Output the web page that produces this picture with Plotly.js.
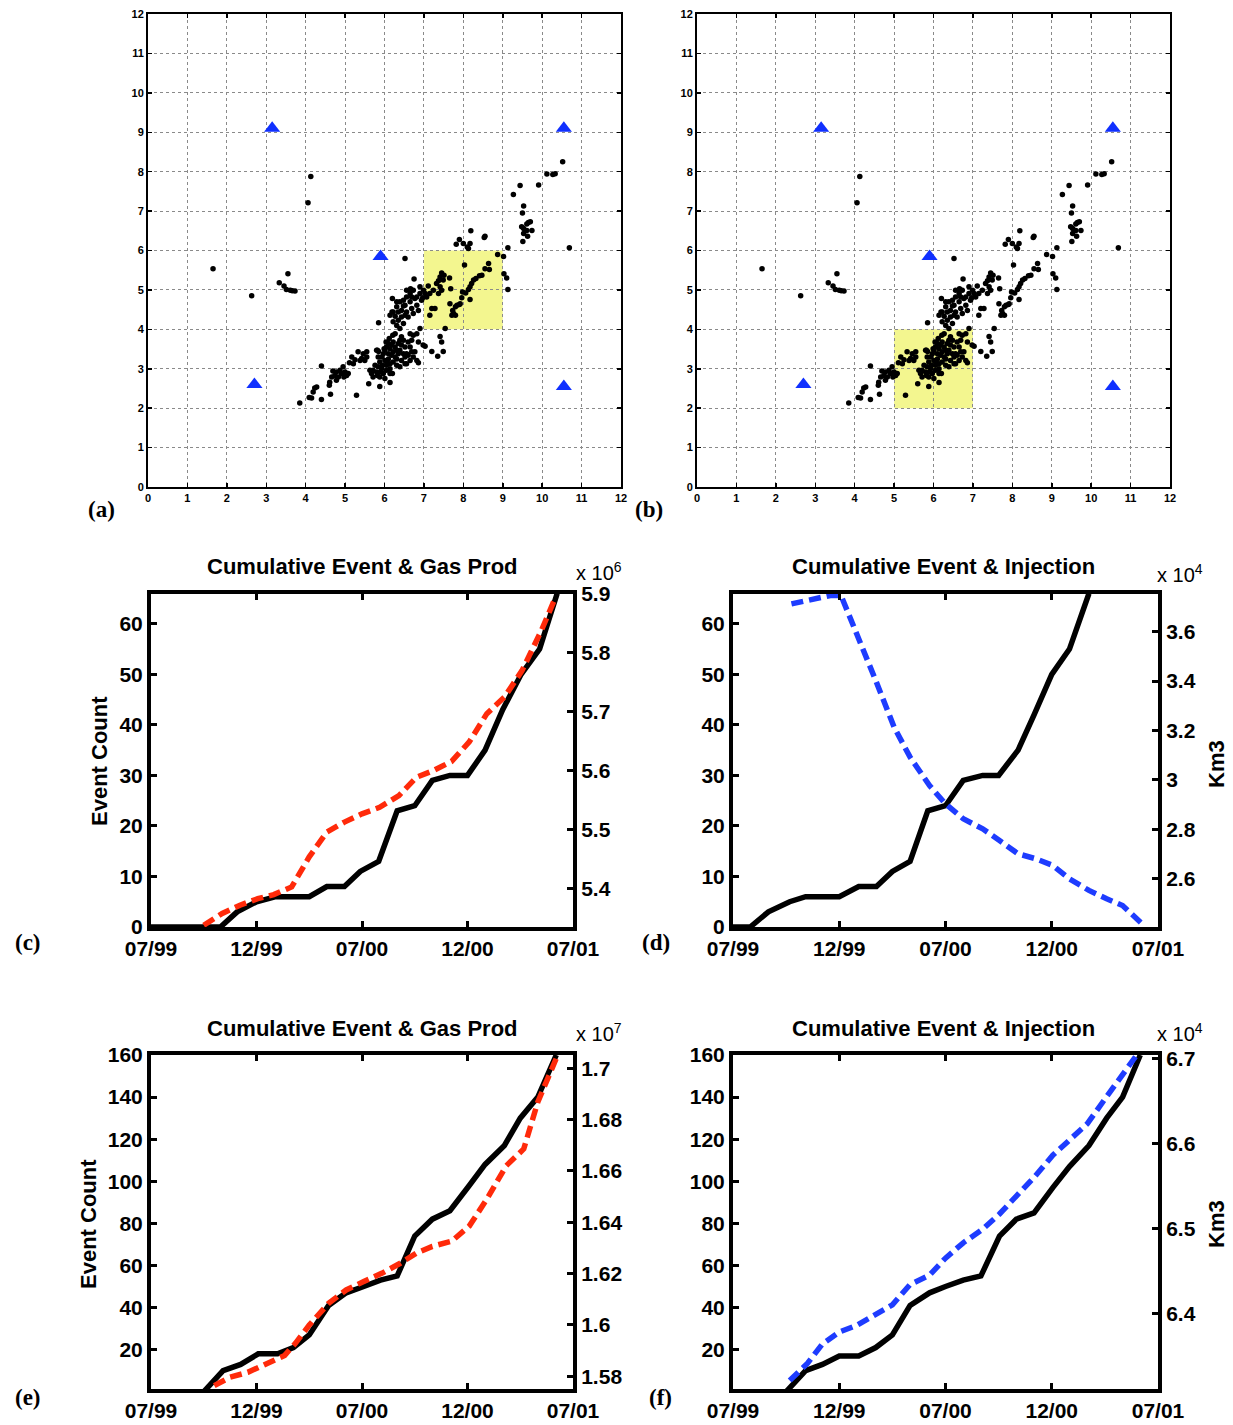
<!DOCTYPE html>
<html>
<head>
<meta charset="utf-8">
<script src="https://cdn.plot.ly/plotly-3.0.1.min.js"></script>
<style>html,body{margin:0;padding:0;background:#fff;}#chart{width:1233px;height:1425px;}</style>
</head>
<body>
<div id="chart"></div>
<script>
// ---------------- DATA ----------------
// Event epicentres (km), panels (a) and (b)
const eventX = [1.65,2.63,3.33,3.45,3.55,3.51,3.61,3.66,3.73,4.06,4.13,6.52,5.85,10.52,10.12,10.27,10.33,9.91,9.44,9.27,9.53,9.50,9.48,9.53,9.61,9.70,9.61,9.53,9.74,9.63,9.51,9.65,10.69,9.13,9.02,8.87,9.03,9.10,9.13,7.90,7.82,8.00,8.13,8.19,8.17,8.10,8.53,8.55,8.03,8.64,8.66,8.55,8.47,8.41,8.32,8.26,8.21,8.17,8.13,8.06,7.98,8.17,7.96,7.92,7.84,7.80,7.73,7.71,7.80,7.90,7.75,7.66,7.20,7.28,7.11,7.24,7.37,7.45,7.49,7.45,7.41,7.32,7.65,7.68,7.37,7.41,7.51,7.15,6.75,7.15,7.54,7.41,7.45,7.49,7.20,7.35,7.03,6.98,
6.20,6.14,6.22,6.31,6.39,6.48,6.56,6.65,6.73,6.82,6.90,6.99,7.03,7.07,6.94,6.82,6.69,6.56,6.43,6.35,6.31,6.39,6.48,6.22,6.27,6.56,6.65,6.77,6.86,6.90,6.66,6.48,6.35,6.43,6.52,6.60,6.73,6.31,6.52,6.19,6.97,6.69,
6.82,6.73,6.69,6.60,6.52,6.65,6.90,6.86,6.77,6.73,6.65,6.56,6.82,6.86,6.69,6.60,6.52,6.48,6.43,
5.88,5.93,5.97,6.01,6.05,6.10,6.14,6.18,6.22,6.27,6.31,6.35,6.39,6.43,6.10,6.14,6.05,6.01,5.95,5.84,5.80,5.71,5.67,5.63,5.76,6.18,6.22,6.27,6.14,5.97,5.88,6.14,6.22,6.31,6.35,6.05,5.82,5.84,6.04,6.12,6.21,6.27,6.48,6.52,6.39,6.43,5.93,6.01,5.88,6.14,6.20,5.60,5.82,6.31,6.39,6.56,6.65,6.10,5.99,6.07,5.90,5.71,5.80,5.85,
5.33,5.46,5.55,5.38,5.25,5.17,5.21,5.42,5.11,5.55,5.50,4.95,4.87,4.78,4.69,4.74,4.83,4.91,5.00,5.04,4.66,4.78,4.61,4.97,5.08,4.40,4.60,4.23,4.19,4.28,4.63,4.09,4.15,4.40,3.85,5.29];
const eventY = [5.54,4.85,5.18,5.10,5.41,5.01,4.99,4.98,4.97,7.21,7.88,5.80,4.17,8.25,7.94,7.93,7.95,7.66,7.65,7.42,7.13,6.95,6.60,6.56,6.67,6.73,6.51,6.43,6.51,6.36,6.23,6.71,6.07,6.07,5.85,5.90,5.41,5.30,5.01,6.28,6.16,6.18,6.05,6.50,6.18,6.09,6.33,6.36,5.63,5.67,5.52,5.54,5.37,5.36,5.29,5.25,5.16,5.08,5.01,4.92,4.95,4.76,4.80,4.65,4.61,4.57,4.48,4.36,4.36,4.63,4.40,4.65,4.53,4.53,5.10,4.99,4.91,4.99,5.25,5.43,5.33,5.16,5.30,5.03,5.23,5.08,5.37,4.91,5.28,4.36,4.02,3.82,3.68,3.44,3.44,3.32,3.57,3.60,
4.78,4.36,4.44,4.57,4.70,4.74,4.82,4.91,4.99,4.82,4.91,4.99,4.91,4.82,4.74,4.61,4.53,4.44,4.31,4.23,4.10,4.02,4.15,4.19,4.33,4.99,4.70,4.78,4.48,5.08,5.03,4.59,4.44,4.48,4.36,4.31,4.40,4.70,4.61,4.44,4.80,4.82,
3.89,3.85,3.72,3.68,3.55,3.89,4.02,3.68,3.43,3.30,3.21,3.13,3.21,3.15,3.43,3.34,3.13,3.72,3.60,
3.17,3.30,3.38,3.47,3.55,3.64,3.51,3.60,3.68,3.55,3.47,3.64,3.72,3.81,3.25,3.13,3.09,3.21,3.09,3.05,2.92,2.96,2.88,2.96,3.09,3.34,3.43,3.30,3.00,2.88,2.79,2.88,3.17,3.25,3.38,2.96,3.47,3.30,3.68,3.77,3.85,3.89,3.38,3.30,3.47,3.21,3.00,2.75,2.55,2.65,2.88,2.62,2.83,3.09,3.05,3.38,3.55,3.38,3.51,3.15,2.92,2.79,3.47,3.44,
3.43,3.38,3.30,3.21,3.23,3.30,3.13,3.26,3.15,3.43,3.21,3.05,2.96,2.92,2.94,2.83,2.79,2.88,2.92,2.83,2.79,2.71,2.66,2.79,2.88,3.07,2.58,2.51,2.41,2.54,2.35,2.27,2.26,2.22,2.13,2.33];
// Stations (blue triangles)
const stationX = [3.15, 10.55, 5.9, 2.7, 10.55];
const stationY = [9.1, 9.1, 5.85, 2.6, 2.55];
// Highlighted boxes [x0, x1, y0, y1]
const boxA = [7, 9, 4, 6];
const boxB = [5, 7, 2, 4];

// Time axis: months since 07/99
const dateTickVals = [0, 6, 12, 18, 24];
const dateTickText = ['07/99', '12/99', '07/00', '12/00', '07/01'];

// (c) cumulative events & gas production (x 10^6)
const cMonths = [0, 3.95, 4.9, 6.0, 7.1, 9.0, 10.0, 11.0, 11.9, 12.95, 14.0, 15.0, 16.0, 17.0, 18.0, 19.0, 20.0, 21.05, 22.1, 23.1];
const cEvents = [0, 0, 3, 5, 6, 6, 8, 8, 11, 13, 23, 24, 29, 30, 30, 35, 43, 50, 55, 66];
const cGasMonths = [3.0, 4.05, 5.06, 6.07, 6.98, 8.0, 9.0, 10.0, 11.0, 12.0, 13.0, 14.1, 15.1, 16.1, 17.1, 18.1, 19.1, 20.1, 21.1, 22.2, 23.0];
const cGas = [5.338, 5.358, 5.372, 5.383, 5.390, 5.403, 5.454, 5.496, 5.513, 5.527, 5.538, 5.558, 5.589, 5.601, 5.616, 5.649, 5.697, 5.725, 5.770, 5.838, 5.894];

// (d) cumulative events & injection (x 10^4 Km3)
const dMonths = [0, 0.97, 2.0, 3.2, 4.1, 6.0, 7.1, 8.1, 9.0, 10.0, 11.0, 12.0, 13.0, 14.1, 15.0, 16.1, 17.0, 18.0, 19.0, 20.1];
const dEvents = [0, 0, 3, 5, 6, 6, 8, 8, 11, 13, 23, 24, 29, 30, 30, 35, 42, 50, 55, 66];
const dInjMonths = [3.3, 4.3, 5.5, 6.1, 7.0, 8.06, 9.1, 10.0, 11.1, 12.0, 13.0, 14.1, 15.05, 16.1, 17.1, 18.06, 19.0, 20.1, 21.1, 22.0, 23.1];
const dInj = [3.712, 3.728, 3.746, 3.746, 3.591, 3.402, 3.213, 3.092, 2.977, 2.903, 2.843, 2.802, 2.755, 2.701, 2.681, 2.654, 2.600, 2.553, 2.519, 2.492, 2.418];

// (e) cumulative events & gas production (x 10^7)
const eMonths = [0, 3.0, 4.1, 5.1, 6.1, 7.2, 8.1, 9.0, 10.1, 11.1, 12.1, 13.05, 14.0, 15.0, 16.0, 17.0, 18.1, 19.0, 20.1, 21.0, 22.0, 23.05];
const eEvents = [0, 0, 10, 13, 18, 18, 21, 27, 41, 47, 50, 53, 55, 74, 82, 86, 98, 108, 117, 130, 140, 160];
const eGasMonths = [3.6, 4.5, 5.5, 6.6, 7.6, 8.2, 9.0, 10.1, 11.1, 12.1, 13.15, 14.2, 15.1, 16.0, 17.1, 18.1, 19.1, 20.2, 21.2, 22.0, 23.05];
const eGas = [1.5763, 1.5796, 1.5815, 1.5848, 1.5881, 1.5927, 1.5999, 1.6084, 1.6136, 1.6169, 1.6202, 1.6241, 1.6280, 1.6306, 1.6326, 1.6385, 1.6490, 1.6620, 1.6686, 1.6869, 1.7039];

// (f) cumulative events & injection (x 10^4 Km3)
const fMonths = [0, 3.0, 4.1, 5.05, 6.0, 7.1, 8.06, 9.0, 10.0, 11.1, 12.0, 13.0, 14.0, 15.05, 16.0, 17.0, 18.06, 19.0, 20.1, 21.1, 22.0, 23.0];
const fEvents = [0, 0, 10, 13, 17, 17, 21, 27, 41, 47, 50, 53, 55, 74, 82, 85, 97, 107, 117, 130, 140, 160];
const fInjMonths = [3.2, 4.2, 5.05, 6.0, 7.0, 8.06, 9.0, 10.0, 11.1, 12.0, 13.0, 14.1, 15.05, 16.0, 17.0, 18.06, 19.0, 20.0, 21.1, 22.0, 22.8];
const fInj = [6.321, 6.341, 6.364, 6.378, 6.386, 6.398, 6.410, 6.434, 6.445, 6.465, 6.483, 6.499, 6.517, 6.538, 6.560, 6.586, 6.603, 6.623, 6.655, 6.680, 6.704];

// ---------------- LAYOUT HELPERS ----------------
const W = 1233, H = 1425;
const px = p => p / W;
const py = p => 1 - p / H;
const dx = (a, b) => [px(a), px(b)];
const dy = (top, bottom) => [py(bottom), py(top)];
const SANS = 'Liberation Sans, Arial, Helvetica, sans-serif';
const SERIF = 'Liberation Serif, Times New Roman, serif';
const RED = '#ff2a0a', BLUE = '#1e3cff';

function scatterAxis(dom, anchor) {
  return {
    domain: dom, anchor: anchor, range: [0, 12], dtick: 1, tick0: 0,
    showgrid: true, gridcolor: '#8a8a8a', gridwidth: 1, griddash: 'dot',
    showline: true, linecolor: 'black', linewidth: 2, mirror: 'ticks',
    ticks: 'inside', ticklen: 4, tickwidth: 1.5, tickcolor: 'black',
    zeroline: false, fixedrange: true,
    tickfont: { family: SANS, size: 11, weight: 'bold', color: 'black' }
  };
}
function timeAxis(dom, anchor) {
  return {
    domain: dom, anchor: anchor, range: [0, 24],
    tickvals: dateTickVals, ticktext: dateTickText,
    showline: true, linecolor: 'black', linewidth: 4, mirror: 'ticks',
    ticks: 'inside', ticklen: 6, tickwidth: 3, tickcolor: 'black',
    showgrid: false, zeroline: false, fixedrange: true,
    tickfont: { family: SANS, size: 21, weight: 'bold', color: 'black' }
  };
}
function leftAxis(dom, anchor, range, dtick) {
  return {
    domain: dom, anchor: anchor, range: range, dtick: dtick, tick0: 0,
    showline: true, linecolor: 'black', linewidth: 4, mirror: false,
    ticks: 'inside', ticklen: 6, tickwidth: 3, tickcolor: 'black',
    showgrid: false, zeroline: false, fixedrange: true,
    tickfont: { family: SANS, size: 21, weight: 'bold', color: 'black' }
  };
}
function rightAxis(over, anchor, range, tick0, dtick) {
  return {
    overlaying: over, anchor: anchor, side: 'right', range: range, tick0: tick0, dtick: dtick,
    showline: true, linecolor: 'black', linewidth: 4,
    ticks: 'inside', ticklen: 6, tickwidth: 3, tickcolor: 'black',
    showgrid: false, zeroline: false, fixedrange: true,
    tickfont: { family: SANS, size: 21, weight: 'bold', color: 'black' }
  };
}

// ---------------- TRACES ----------------
const dash = '12px,6px';
const traces = [];
[['x', 'y'], ['x2', 'y2']].forEach(([xa, ya]) => {
  traces.push({ x: eventX, y: eventY, xaxis: xa, yaxis: ya, type: 'scatter', mode: 'markers',
    marker: { size: 5.5, color: 'black' }, hoverinfo: 'x+y' });
  traces.push({ x: stationX, y: stationY, xaxis: xa, yaxis: ya, type: 'scatter', mode: 'markers',
    marker: { symbol: 'triangle-up', size: 14, color: '#1030ff' }, hoverinfo: 'x+y' });
});
function evtLine(x, y, xa, ya) {
  return { x: x, y: y, xaxis: xa, yaxis: ya, type: 'scatter', mode: 'lines',
    line: { color: 'black', width: 5.5 } };
}
function dashLine(x, y, xa, ya, c) {
  return { x: x, y: y, xaxis: xa, yaxis: ya, type: 'scatter', mode: 'lines',
    line: { color: c, width: 5.5, dash: dash } };
}
traces.push(evtLine(cMonths, cEvents, 'x3', 'y3'));
traces.push(dashLine(cGasMonths, cGas, 'x3', 'y4', RED));
traces.push(evtLine(dMonths, dEvents, 'x4', 'y5'));
traces.push(dashLine(dInjMonths, dInj, 'x4', 'y6', BLUE));
traces.push(evtLine(eMonths, eEvents, 'x5', 'y7'));
traces.push(dashLine(eGasMonths, eGas, 'x5', 'y8', RED));
traces.push(evtLine(fMonths, fEvents, 'x6', 'y9'));
traces.push(dashLine(fInjMonths, fInj, 'x6', 'y10', BLUE));

// ---------------- ANNOTATIONS ----------------
const ann = [];
function txt(text, x, y, opts) {
  ann.push(Object.assign({ text: text, x: px(x), y: py(y), xref: 'paper', yref: 'paper',
    showarrow: false, xanchor: 'center', yanchor: 'middle',
    font: { family: SANS, size: 22, weight: 'bold', color: 'black' } }, opts || {}));
}
const serifLbl = { font: { family: SERIF, size: 23, weight: 'bold', color: 'black' } };
txt('(a)', 101, 509, serifLbl);
txt('(b)', 649, 509, serifLbl);
txt('(c)', 28, 942, serifLbl);
txt('(d)', 656, 942, serifLbl);
txt('(e)', 28, 1397, serifLbl);
txt('(f)', 660, 1397, serifLbl);

txt('Cumulative Event &amp; Gas Prod', 362, 566);
txt('Cumulative Event &amp; Injection', 943, 566);
txt('Cumulative Event &amp; Gas Prod', 362, 1028);
txt('Cumulative Event &amp; Injection', 943, 1028);

txt('Event Count', 100, 761, { textangle: -90 });
txt('Event Count', 88, 1224, { textangle: -90 });
txt('Km3', 1216, 764, { textangle: -90 });
txt('Km3', 1216, 1224, { textangle: -90 });

const expFont = { xanchor: 'left', font: { family: SANS, size: 20, color: 'black' } };
txt('x 10<sup>6</sup>', 574, 571, expFont);
txt('x 10<sup>4</sup>', 1155, 573, expFont);
txt('x 10<sup>7</sup>', 574, 1032, expFont);
txt('x 10<sup>4</sup>', 1155, 1032, expFont);

// ---------------- SHAPES ----------------
const shapes = [
  { type: 'rect', xref: 'x', yref: 'y', x0: boxA[0], x1: boxA[1], y0: boxA[2], y1: boxA[3],
    fillcolor: '#f3f68f', line: { width: 0 }, layer: 'below' },
  { type: 'rect', xref: 'x2', yref: 'y2', x0: boxB[0], x1: boxB[1], y0: boxB[2], y1: boxB[3],
    fillcolor: '#f3f68f', line: { width: 0 }, layer: 'below' }
];

const layout = {
  width: W, height: H, margin: { l: 0, r: 0, t: 0, b: 0 },
  paper_bgcolor: 'white', plot_bgcolor: 'rgba(0,0,0,0)', showlegend: false,
  font: { family: SANS, color: 'black' },
  xaxis: scatterAxis(dx(148, 621), 'y'),
  yaxis: scatterAxis(dy(14, 487), 'x'),
  xaxis2: scatterAxis(dx(697, 1170), 'y2'),
  yaxis2: scatterAxis(dy(14, 487), 'x2'),
  xaxis3: timeAxis(dx(151, 573), 'y3'),
  yaxis3: leftAxis(dy(594, 927), 'x3', [0, 65.9], 10),
  yaxis4: rightAxis('y3', 'x3', [5.335, 5.9], 5.4, 0.1),
  xaxis4: timeAxis(dx(733, 1158), 'y5'),
  yaxis5: leftAxis(dy(594, 927), 'x4', [0, 65.9], 10),
  yaxis6: rightAxis('y5', 'x4', [2.405, 3.752], 2.6, 0.2),
  xaxis5: timeAxis(dx(151, 573), 'y7'),
  yaxis7: leftAxis(dy(1055, 1389), 'x5', [1.3, 160], 20),
  yaxis8: rightAxis('y7', 'x5', [1.575, 1.7052], 1.58, 0.02),
  xaxis6: timeAxis(dx(733, 1158), 'y9'),
  yaxis9: leftAxis(dy(1055, 1389), 'x6', [1.3, 160], 20),
  yaxis10: rightAxis('y9', 'x6', [6.311, 6.704], 6.4, 0.1),
  annotations: ann,
  shapes: shapes
};

Plotly.newPlot('chart', traces, layout, { staticPlot: true, displayModeBar: false });
</script>
</body>
</html>
